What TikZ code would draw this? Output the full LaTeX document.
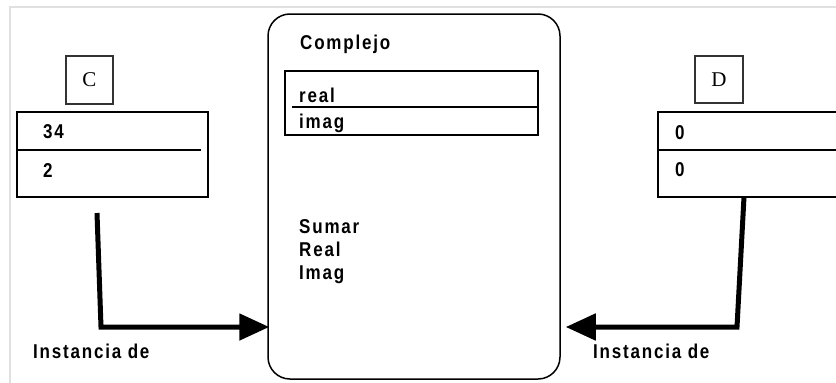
\documentclass[tikz,border=0pt]{standalone}
\usepackage{fontspec}
\usetikzlibrary{arrows.meta}
\newfontfamily\lblfont[FakeStretch=0.85,LetterSpace=9]{Liberation Sans Bold}
\newfontfamily\serfont{Liberation Serif}
\begin{document}
\begin{tikzpicture}[x=1pt,y=-1pt,
  lbl/.style={font=\lblfont\fontsize{20}{22}\selectfont, anchor=base west, inner sep=0pt},
  namebox/.style={draw=black!80, line width=1.1pt, inner sep=0pt, font=\serfont\fontsize{21}{23}\selectfont},
  tabbox/.style={draw=black, line width=1.4pt, inner sep=0pt},
  clsbox/.style={draw=black, line width=1.5pt, rounded corners=22pt, inner sep=0pt},
  conn/.style={line width=5pt, -{Triangle[length=30pt,width=26pt]}},
  frameline/.style={draw=black!12, line width=1.5pt}]
\useasboundingbox (0,0) rectangle (836,383);
\fill[white] (0,0) rectangle (836,383);
% faint frame
\coordinate (f1) at (10,7);
\coordinate (f2) at (836,7);
\coordinate (f3) at (10,383);
\draw[frameline] (f3) -- (f1) -- (f2);

% instance C
\node[namebox, minimum width=47pt, minimum height=48pt] (Cbox) at (89.5,80) {C};
\node[tabbox, minimum width=191pt, minimum height=85pt] (Ctab) at (112.5,154.5) {};
\coordinate (Cdiv) at (201,150);
\draw[line width=1.4pt] (Ctab.west |- Cdiv) -- (Cdiv);
\node[lbl] (C1) at (43,138) {34};
\node[lbl] (C2) at (43,177) {2};

% instance D
\node[namebox, minimum width=48pt, minimum height=47pt] (Dbox) at (719,79.5) {D};
\node[tabbox, minimum width=180pt, minimum height=85pt] (Dtab) at (748,154.5) {};
\coordinate (Ddiv) at (836,150);
\draw[line width=1.4pt] (Dtab.west |- Ddiv) -- (Ddiv);
\node[lbl] (D1) at (675,139) {0};
\node[lbl] (D2) at (675,176) {0};

% class Complejo
\node[clsbox, minimum width=292pt, minimum height=365pt] (cx) at (414,196.5) {};
\node[lbl] (title) at (300,49) {Complejo};
\node[draw=black, line width=1.3pt, minimum width=253pt, minimum height=64pt, inner sep=0pt] (inner) at (411.5,103) {};
\coordinate (idiv) at (292,107);
\draw[line width=1.3pt] (idiv) -- (idiv -| inner.east);
\node[lbl] (a1) at (299,102) {real};
\node[lbl] (a2) at (299,128) {imag};
\node[lbl] (m1) at (299,233) {Sumar};
\node[lbl] (m2) at (299,256) {Real};
\node[lbl] (m3) at (299,279) {Imag};

% connectors
\coordinate (cs) at (97,213);
\coordinate (cb) at (101,327);
\draw[conn] (cs) -- (cb) -- ([xshift=2pt]cb -| cx.west);
\coordinate (ds) at (744,197);
\coordinate (db) at (737,327);
\draw[conn] (ds) -- (db) -- ([xshift=5pt]db -| cx.east);

\node[lbl] (il) at (33,358) {Instancia de};
\node[lbl] (ir) at (593,358) {Instancia de};
\end{tikzpicture}
\end{document}
